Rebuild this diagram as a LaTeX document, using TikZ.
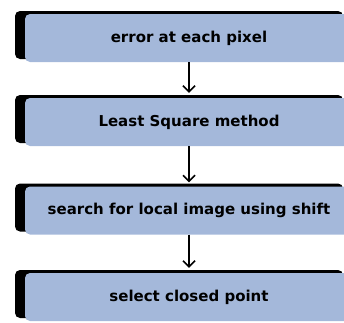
\documentclass[tikz,border=0pt]{standalone}
\usepackage{fontspec}
\setmainfont{DejaVu Sans}
\usetikzlibrary{shadows,arrows.meta}
\definecolor{boxblue}{RGB}{164,184,218}
\tikzset{
  stepbox/.style={fill=boxblue, rounded corners=5pt, minimum width=328pt, minimum height=48pt,
    inner sep=0pt, font=\bfseries\fontsize{15}{18}\selectfont,
    general shadow={shadow xshift=-10pt, shadow yshift=3pt, fill=black}},
  flow/.style={line width=1.5pt, -{Straight Barb[length=6pt,width=12pt,line width=1.5pt]}}
}
\begin{document}
\begin{tikzpicture}[x=1pt,y=-1pt]
\useasboundingbox (0,0) rectangle (344,322);
\node[stepbox] (b1) at (189,38) {error at each pixel};
\node[stepbox] (b2) at (189,122) {Least Square method};
\node[stepbox] (b3) at (189,210.5) {search for local image using shift};
\node[stepbox] (b4) at (189,297) {select closed point};
\draw[flow] (b1.south) -- ([yshift=5pt]b2.north);
\draw[flow] (b2.south) -- ([yshift=4pt]b3.north);
\draw[flow] (b3.south) -- ([yshift=5pt]b4.north);
\end{tikzpicture}
\end{document}
